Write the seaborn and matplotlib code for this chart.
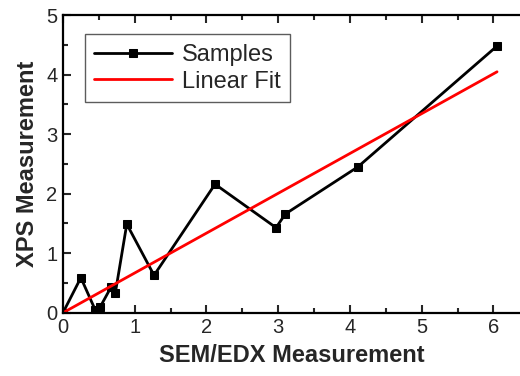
import numpy as np
import pandas as pd
import matplotlib
matplotlib.use("Agg")
import matplotlib.pyplot as plt
from matplotlib.ticker import MultipleLocator
import seaborn as sns

# SEM/EDX vs XPS measurements, in acquisition order
sem_edx = [0.0, 0.25, 0.45, 0.52, 0.67, 0.73, 0.89, 1.27, 1.27, 2.12, 2.97, 3.10, 4.11, 6.05]
xps = [0.0, 0.59, 0.05, 0.10, 0.43, 0.33, 1.49, 0.58, 0.68, 2.16, 1.43, 1.66, 2.45, 4.48]

x_ticks = [0, 1, 2, 3, 4, 5, 6]
y_ticks = [0, 1, 2, 3, 4, 5]

sns.set_style("ticks")
plt.rcParams["font.family"] = ["Liberation Sans", "DejaVu Sans"]

samples = pd.DataFrame({"x": sem_edx, "y": xps})

# least-squares line through the origin
xa = np.array(sem_edx)
ya = np.array(xps)
slope = float((xa * ya).sum() / (xa * xa).sum())
fit = pd.DataFrame({"x": [0.0, max(sem_edx)]})
fit["y"] = slope * fit["x"]

fig = plt.figure(figsize=(5.2, 3.76), dpi=100)
ax = fig.add_axes([0.121, 0.168, 0.879, 0.792])

sns.lineplot(data=samples, x="x", y="y", sort=False, ax=ax, color="black",
             linewidth=2.0, marker="s", markersize=5.8, markeredgecolor="black",
             label="Samples")
sns.lineplot(data=fit, x="x", y="y", ax=ax, color="#ff0000", linewidth=2.0,
             label="Linear Fit")

ax.set_xlim(0, 6.37)
ax.set_ylim(0, 5)
ax.set_xticks(x_ticks)
ax.set_yticks(y_ticks)
ax.xaxis.set_minor_locator(MultipleLocator(0.5))
ax.yaxis.set_minor_locator(MultipleLocator(0.5))
ax.tick_params(which="both", direction="in", top=True, right=False, width=1.5,
               labelsize=14.5, pad=4)
ax.tick_params(which="major", length=6)
ax.tick_params(which="minor", length=3.5)
ax.tick_params(axis="x", which="both", labeltop=False)
for side in ["left", "bottom", "top"]:
    ax.spines[side].set_linewidth(1.6)
    ax.spines[side].set_color("black")
ax.spines["right"].set_visible(False)

ax.set_xlabel("SEM/EDX Measurement", fontsize=17, fontweight="bold", labelpad=5)
ax.set_ylabel("XPS Measurement", fontsize=17, fontweight="bold", labelpad=5)

leg = ax.legend(loc="upper left", bbox_to_anchor=(0.048, 0.935), fontsize=17,
                frameon=True, fancybox=False, edgecolor="#333333",
                handlelength=3.3, handletextpad=0.4, borderpad=0.4,
                labelspacing=0.2, borderaxespad=0)
leg.get_frame().set_linewidth(1.0)

fig.savefig("out.png", dpi=100)
